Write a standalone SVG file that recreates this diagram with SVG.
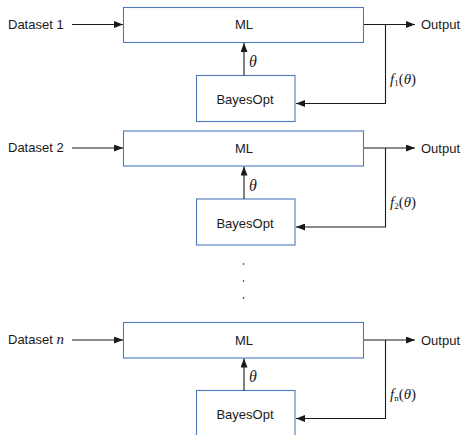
<svg xmlns="http://www.w3.org/2000/svg" width="466" height="435" viewBox="0 0 466 435">
<style>
.box{fill:#fff;stroke:#4f78bd;stroke-width:1.1}
.ln{fill:none;stroke:#1a1a1a;stroke-width:1.1}
.t{font-family:"Liberation Sans",Arial,sans-serif;font-size:13px;fill:#1a1a1a}
.m{font-family:"Liberation Serif","Times New Roman",serif;font-style:italic;font-size:15px;fill:#1a1a1a}
.th{font-family:"Liberation Serif","Times New Roman",serif;font-style:italic;font-size:16px;fill:#1a1a1a}
.dot{fill:#1a1a1a}
</style>
<defs>
<marker id="ah" markerWidth="9" markerHeight="7" refX="9" refY="3.5" orient="auto" markerUnits="userSpaceOnUse">
<path d="M0,0 L9,3.5 L0,7 Z" fill="#1a1a1a"/>
</marker>
</defs>
<g id="nodes">
<g id="ml1"><rect class="box" x="123.5" y="7.5" width="240" height="35"/><text class="t" x="244" y="29" text-anchor="middle">ML</text></g>
<g id="bo1"><rect class="box" x="196.5" y="75.5" width="98.5" height="46"/><text class="t" x="245" y="104" text-anchor="middle">BayesOpt</text></g>
<g id="ds1"><text class="t" x="8" y="28.5">Dataset 1</text></g>
<g id="out1"><text class="t" x="421" y="29">Output</text></g>

<g id="ml2"><rect class="box" x="123.5" y="131" width="240" height="35"/><text class="t" x="244" y="152.5" text-anchor="middle">ML</text></g>
<g id="bo2"><rect class="box" x="196.5" y="199" width="98.5" height="46"/><text class="t" x="245" y="227.5" text-anchor="middle">BayesOpt</text></g>
<g id="ds2"><text class="t" x="8" y="152">Dataset 2</text></g>
<g id="out2"><text class="t" x="421" y="152.5">Output</text></g>

<g id="mln"><rect class="box" x="123.5" y="322.5" width="240" height="35.5"/><text class="t" x="244" y="344.5" text-anchor="middle">ML</text></g>
<g id="bon"><rect class="box" x="196.5" y="390.5" width="98.5" height="46"/><text class="t" x="245" y="419" text-anchor="middle">BayesOpt</text></g>
<g id="dsn"><text class="t" x="8" y="344">Dataset <tspan font-family="Liberation Serif,serif" font-style="italic" font-size="15">n</tspan></text></g>
<g id="outn"><text class="t" x="421" y="344.5">Output</text></g>
</g>
<g id="connectors">
<line class="ln" x1="72" y1="24.5" x2="123" y2="24.5" marker-end="url(#ah)"/>
<line class="ln" x1="244" y1="75.5" x2="244" y2="43" marker-end="url(#ah)"/>
<line class="ln" x1="364" y1="24.5" x2="415" y2="24.5" marker-end="url(#ah)"/>
<polyline class="ln" points="385.5,24.5 385.5,103.5 296,103.5" marker-end="url(#ah)"/>

<line class="ln" x1="72" y1="148" x2="123" y2="148" marker-end="url(#ah)"/>
<line class="ln" x1="244" y1="199" x2="244" y2="166.5" marker-end="url(#ah)"/>
<line class="ln" x1="364" y1="148" x2="415" y2="148" marker-end="url(#ah)"/>
<polyline class="ln" points="385.5,148 385.5,227 296,227" marker-end="url(#ah)"/>

<line class="ln" x1="72" y1="340" x2="123" y2="340" marker-end="url(#ah)"/>
<line class="ln" x1="244" y1="390.5" x2="244" y2="358.5" marker-end="url(#ah)"/>
<line class="ln" x1="364" y1="340" x2="415" y2="340" marker-end="url(#ah)"/>
<polyline class="ln" points="385.5,340 385.5,418.5 296,418.5" marker-end="url(#ah)"/>
</g>
<g id="labels">
<text class="th" x="249" y="67">θ</text>
<text class="m" x="390" y="83.5">f<tspan font-size="9" dy="2" font-style="normal">1</tspan><tspan dy="-2" font-style="normal">(</tspan>θ<tspan font-style="normal">)</tspan></text>
<text class="th" x="249" y="190.5">θ</text>
<text class="m" x="390" y="207">f<tspan font-size="9" dy="2" font-style="normal">2</tspan><tspan dy="-2" font-style="normal">(</tspan>θ<tspan font-style="normal">)</tspan></text>
<text class="th" x="249" y="382">θ</text>
<text class="m" x="390" y="398.5">f<tspan font-size="9" dy="2" font-style="normal">n</tspan><tspan dy="-2" font-style="normal">(</tspan>θ<tspan font-style="normal">)</tspan></text>
</g>
<g id="ellipsis">
<circle class="dot" cx="243.5" cy="264" r="0.8"/>
<circle class="dot" cx="243.5" cy="281" r="0.8"/>
<circle class="dot" cx="243.5" cy="298" r="0.8"/>
</g>
</svg>
